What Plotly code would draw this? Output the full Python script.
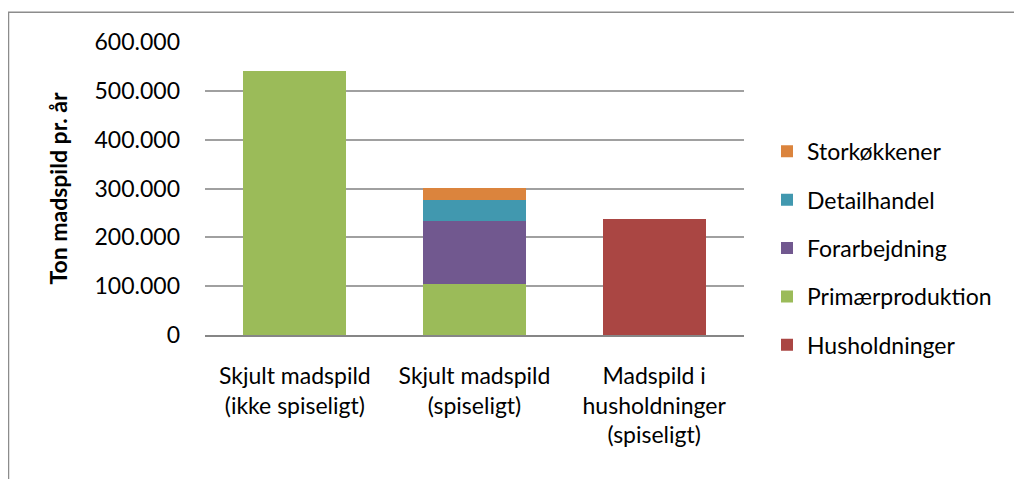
import plotly.graph_objects as go

categories = ["Skjult madspild<br>(ikke spiseligt)", "Skjult madspild<br>(spiseligt)",
              "Madspild i<br>husholdninger<br>(spiseligt)"]
husholdninger = [0, 0, 238000]
primaerproduktion = [540000, 104000, 0]
forarbejdning = [0, 130000, 0]
detailhandel = [0, 43000, 0]
storkoekkener = [0, 25000, 0]
y_ticks = [0, 100000, 200000, 300000, 400000, 500000, 600000]

series = [
    ("Husholdninger", husholdninger, "#AA4643", 5),
    ("Primærproduktion", primaerproduktion, "#9BBB59", 4),
    ("Forarbejdning", forarbejdning, "#71588F", 3),
    ("Detailhandel", detailhandel, "#4198AF", 2),
    ("Storkøkkener", storkoekkener, "#DB843D", 1),
]

FONT = "Lato, 'Open Sans', sans-serif"
fig = go.Figure()
for name, vals, col, rank in series:
    fig.add_trace(go.Bar(x=categories, y=vals, name=name, marker_color=col,
                         marker_line_width=0, legendgroup=name, legendrank=rank))

OFF = 8  # page offset observed in the screenshot
W, H = 1022, 479
# target screen coordinates of the plot area
SL, SR, ST, SB = 205, 744, 41.7, 334.7
L, T = SL - OFF, ST - OFF
pw, ph = SR - SL, SB - ST
R, B = W - L - pw, H - T - ph

def px(x):  # screen x -> paper
    return (x - SL) / pw

def py(y):  # screen y -> paper
    return (SB - y) / ph

fig.update_layout(
    width=W, height=H,
    margin=dict(l=L, r=R, t=T, b=B, autoexpand=False),
    barmode="stack", bargap=0.427,
    plot_bgcolor="white", paper_bgcolor="white",
    separators=",.",
    font=dict(family=FONT, size=23, color="#000000"),
    showlegend=True,
    legend=dict(traceorder="grouped", tracegroupgap=15.5,
                x=px(767), xanchor="left", y=py(248), yanchor="middle",
                font=dict(size=23), bgcolor="rgba(0,0,0,0)"),
    xaxis=dict(showgrid=False, showline=True, linecolor="#868686", linewidth=2,
               ticks="", ticklabelstandoff=19, tickfont=dict(size=23)),
    yaxis=dict(range=[0, 600000], tickvals=y_ticks, tickformat=",.0f",
               showgrid=True, gridcolor="#A0A0A0", gridwidth=1.5,
               zeroline=False, showline=False, ticks="", ticklabelstandoff=24,
               tickfont=dict(size=23),
               title=dict(text="<b>Ton madspild pr. år</b>", standoff=20,
                          font=dict(size=23))),
    shapes=[dict(type="rect", xref="paper", yref="paper",
                 x0=px(8.5), x1=px(1040), y0=py(12), y1=py(520),
                 line=dict(color="#8C8C8C", width=1.5), layer="below")],
)

fig.write_html("out.html")
